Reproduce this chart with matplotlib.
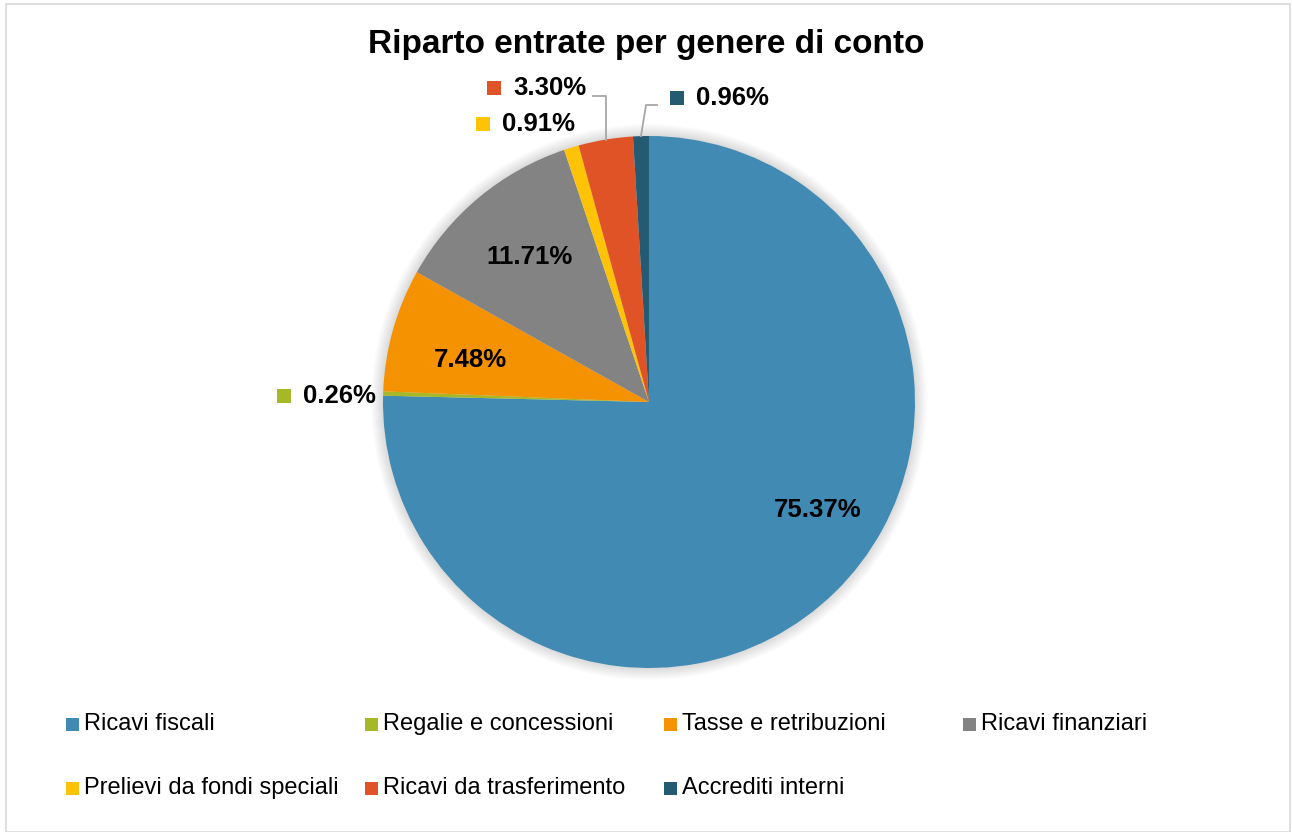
import numpy as np
import matplotlib
matplotlib.use("Agg")
import matplotlib.pyplot as plt
import matplotlib.patches as mpatches

plt.rcParams["font.family"] = ["Liberation Sans", "DejaVu Sans"]

TITLE = "Riparto entrate per genere di conto"
categories = [
    "Ricavi fiscali",
    "Regalie e concessioni",
    "Tasse e retribuzioni",
    "Ricavi finanziari",
    "Prelievi da fondi speciali",
    "Ricavi da trasferimento",
    "Accrediti interni",
]
shares = [75.37, 0.26, 7.48, 11.71, 0.91, 3.30, 0.96]
colors = ["#418AB3", "#A6B727", "#F59201", "#838383", "#FEC306", "#DF5327", "#255A73"]

# label layout in pixel coords (x, y of text; inside -> centre, outside -> left edge)
label_pos = [(818, 510), (303, 396), (470, 360), (530, 257), (502, 124), (513, 88), (696, 98)]
label_inside = [True, False, True, True, False, False, False]
leader = [None, None, None, None, None, (593, 96), (657, 105)]

W, H = 1292, 832
CX, CY, R = 649, 402, 266


def Y(y):
    return H - y


fig = plt.figure(figsize=(W / 100, H / 100), dpi=100)
ax = fig.add_axes([0, 0, 1, 1])
ax.set_xlim(0, W)
ax.set_ylim(0, H)
ax.set_aspect("equal")
ax.axis("off")

# soft glow behind the pie
for k in range(1, 13):
    ax.add_patch(mpatches.Circle((CX, Y(CY)), R + k, color="black", alpha=0.011, lw=0, zorder=1))

wedges, _ = ax.pie(
    shares, colors=colors, startangle=90, counterclock=False,
    center=(CX, Y(CY)), radius=R, frame=True,
    wedgeprops=dict(linewidth=0, zorder=2),
)
ax.set_xlim(0, W)
ax.set_ylim(0, H)
ax.axis("off")

for w, val, (lx, ly), inside, ld, col in zip(wedges, shares, label_pos, label_inside, leader, colors):
    txt = f"{val:.2f}%"
    if inside:
        ax.text(lx, Y(ly), txt, ha="center", va="center", fontsize=18.5,
                fontweight="bold", color="black", zorder=5)
        continue
    ax.text(lx, Y(ly), txt, ha="left", va="center", fontsize=18.5,
            fontweight="bold", color="black", zorder=5)
    ax.add_patch(mpatches.Rectangle((lx - 26, Y(ly) - 7), 14, 14, color=col, lw=0, zorder=5))
    if ld is not None:
        mid = np.deg2rad((w.theta1 + w.theta2) / 2)
        ex, ey = CX + R * np.cos(mid), Y(CY) + R * np.sin(mid)
        sx, sy = ld
        bx = ex + (sx - ex) * 0.3 if sx > ex else ex
        bx = ex if sx < ex else sx - 11
        ax.plot([sx, bx, ex], [Y(sy), Y(sy), ey], color="#A6A6A6", lw=1.3, zorder=4)

ax.text(646, Y(45), TITLE, ha="center", va="center", fontsize=24,
        fontweight="bold", color="black")

# legend, 4 equal-width columns like Excel
for i, (name, col) in enumerate(zip(categories, colors)):
    c, r = i % 4, i // 4
    mx = 66 + c * 299
    my = 724 + r * 64
    ax.add_patch(mpatches.Rectangle((mx, Y(my) - 6.5), 13, 13, color=col, lw=0))
    ax.text(mx + 18, Y(my), name, ha="left", va="center", fontsize=17, color="black")

ax.add_patch(mpatches.Rectangle((6, 0), 1284, H - 4, fill=False, edgecolor="#D9D9D9", lw=1.2))

fig.savefig("out.png", dpi=100, facecolor="white")
